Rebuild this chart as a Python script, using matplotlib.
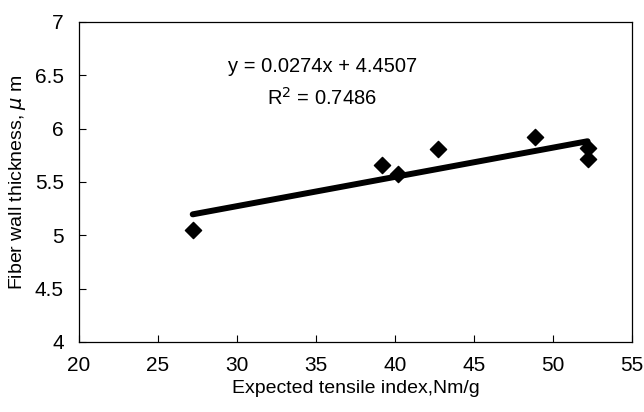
import numpy as np
import matplotlib
matplotlib.use("Agg")
import matplotlib.pyplot as plt

plt.rcParams["font.family"] = ["Liberation Sans", "DejaVu Sans"]

# data
tensile = [27.2, 39.2, 40.2, 42.7, 48.9, 52.2, 52.2]
thickness = [5.05, 5.66, 5.57, 5.81, 5.92, 5.82, 5.71]
slope = 0.0274
intercept = 4.4507
r2 = 0.7486

fig = plt.figure(figsize=(6.44, 4.12), dpi=100)
ax = fig.add_axes([0.1227, 0.170, 0.8583, 0.777])

ax.scatter(tensile, thickness, marker="D", s=68, color="black", zorder=3)
xf = np.array([min(tensile), max(tensile)])
ax.plot(xf, slope * xf + intercept, color="black", lw=4.3,
        solid_capstyle="round", zorder=2)

ax.text(35.4, 6.58, "y = %.4fx + %.4f" % (slope, intercept),
        ha="center", va="center", fontsize=14.5)
ax.text(35.4, 6.29, "R$^2$ = %.4f" % r2,
        ha="center", va="center", fontsize=14.5)

ax.set_xlim(20, 55)
ax.set_ylim(4, 7)
ax.set_xticks(np.arange(20, 56, 5))
ax.set_yticks(np.arange(4, 7.1, 0.5))
ax.set_yticklabels(["4", "4.5", "5", "5.5", "6", "6.5", "7"])
ax.tick_params(direction="in", length=5, labelsize=15)
ax.tick_params(axis="x", pad=10)
ax.tick_params(axis="y", pad=11)
ax.set_xlabel("Expected tensile index,Nm/g", fontsize=14, labelpad=4)
ax.set_ylabel("Fiber wall thickness, $\\mu$ m", fontsize=14, labelpad=5)
for s in ax.spines.values():
    s.set_linewidth(0.9)

fig.savefig("out.png", dpi=100)
